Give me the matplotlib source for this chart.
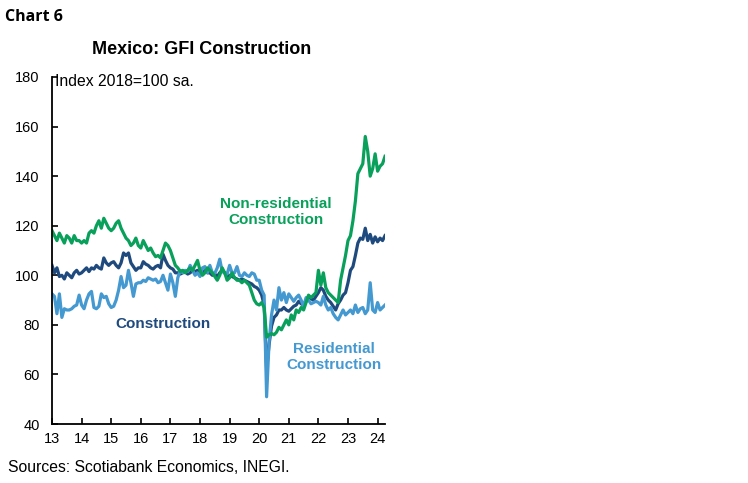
import numpy as np
import matplotlib
matplotlib.use('Agg')
import matplotlib.pyplot as plt

plt.rcParams['font.family'] = 'Liberation Sans'

# monthly index values, Jan 2013 .. Apr 2024 (2018=100, sa)
nonres = [
    118, 116, 114, 117, 115, 113, 116, 115, 113, 116, 114, 114,
    113, 114, 113, 117, 118, 117, 120, 122, 119, 123, 121, 119,
    118, 119, 121, 122, 119, 117, 115, 114, 112, 113, 115, 112,
    111, 114, 112, 110, 111, 109, 107.5, 108, 107, 110, 113, 112,
    110, 107, 104, 103, 101.5, 102, 101, 102, 103, 102, 104, 106,
    102, 100, 101, 103, 102, 101, 99.5, 98, 100, 103, 101, 98,
    99, 101, 99, 98, 98, 97, 98, 97, 96, 93, 90, 88.5,
    88, 89, 87, 75, 76, 76.5, 76, 77, 79, 78, 80, 82,
    80, 84, 82, 86, 85, 87, 86, 89, 92, 91, 92, 93,
    102, 96, 101, 95, 93, 92, 91, 90, 89, 98, 103, 108,
    114, 116, 122, 130, 141, 143, 145, 156, 150, 140, 143, 149,
    142, 144, 145, 148,
]
constr = [
    104, 101, 103, 99.5, 100, 98.5, 101, 100, 99, 101, 102, 100.5,
    101, 102, 103, 101.5, 103, 102.5, 104, 103, 102.5, 107, 105, 104,
    105, 105.5, 104, 103, 105, 109, 108, 109, 105, 103.5, 102, 103,
    103, 105.5, 104.5, 104, 103, 102.5, 103.5, 104, 103, 108.5, 106, 104,
    103, 102.5, 101, 101, 100.5, 101, 101.5, 100.5, 101, 102, 101.5, 102,
    100.5, 101, 102, 101, 101, 100, 100.5, 99.5, 101, 102, 101, 99.5,
    100, 99.5, 99, 98.5, 98, 98.5, 98, 97.5, 97, 96.5, 95.5, 95,
    94, 92, 88, 62, 72, 79.5, 83, 84, 86, 86, 87, 86,
    85.5, 86.5, 87.5, 88, 89.5, 88.5, 88, 89.5, 91.5, 90.5, 90, 91.5,
    93, 95, 94, 91.5, 90, 89, 87.5, 86, 88.5, 90, 92, 93,
    97, 102, 103.5, 108, 113, 115, 114.5, 119, 114, 116.5, 113, 115.5,
    113.5, 115, 114, 116,
]
resid = [
    92.5, 91.5, 84.5, 92.5, 83, 86.5, 86, 86, 86.5, 87.5, 88, 92,
    88, 86.5, 90, 92.5, 93.5, 87, 86.5, 87.5, 92.5, 91, 91.5, 88.5,
    87, 87.5, 90, 94, 99.5, 95, 96, 102, 97, 91.5, 96.5, 97,
    97, 98, 97.5, 99, 98.5, 98, 98.5, 97, 97.5, 100, 97, 94,
    100.5, 97, 91.5, 99, 102, 101, 102, 101.5, 104, 102, 100, 101,
    99.5, 103, 103.5, 101, 104, 101, 100.8, 103, 106.5, 101.5, 101, 100.5,
    104, 101, 101, 103.5, 100, 99.5, 101, 100, 99.5, 101, 100.5, 98,
    98, 94, 92, 51, 73, 84, 90, 86, 95, 90, 93, 89,
    92.5, 91, 89.5, 91, 92, 90, 87.5, 91, 90, 88.5, 89, 89.5,
    89, 88, 91.5, 88, 86, 87, 84.5, 83, 82, 84, 86, 84,
    85, 86, 84.5, 88, 85, 86.5, 87, 84.5, 86, 97, 86, 85,
    89, 86, 87, 88,
]
years = list(range(2013, 2025))
year_labels = [str(y)[2:] for y in years]

dark_blue = '#1f4a7e'
light_blue = '#4499d1'
green = '#08a05a'

t = 2013 + np.arange(len(constr)) / 12.0

fig = plt.figure(figsize=(7.48, 4.83), dpi=100)
ax = fig.add_axes([52 / 748, 59 / 483, 333 / 748, 347 / 483])

ax.plot(t, constr, color=dark_blue, lw=2.3)
ax.plot(t, resid, color=light_blue, lw=2.3)
ax.plot(t, nonres, color=green, lw=2.3)

ax.set_xlim(2013, t[-1])
ax.set_ylim(40, 180)
ax.set_xticks(years)
ax.set_xticklabels(year_labels)
ax.set_yticks(range(40, 181, 20))

for s in ['top', 'right']:
    ax.spines[s].set_visible(False)
for s in ['left', 'bottom']:
    ax.spines[s].set_linewidth(1.3)
ax.tick_params(axis='both', direction='in', length=4, width=1.2, labelsize=10.5)
ax.tick_params(axis='y', pad=9)
ax.tick_params(axis='x', pad=6)

ax.text(0.008, 1.008, 'Index 2018=100 sa.', transform=ax.transAxes,
        fontsize=11.3, va='top', ha='left')

fig.text(5 / 748, 1 - 17 / 483, 'Chart 6', fontsize=11.5, fontweight='bold',
         family='Open Sans', va='center', ha='left')
fig.text(202 / 748, 1 - 50 / 483, 'Mexico: GFI Construction', fontsize=13,
         fontweight='bold', va='center', ha='center')
fig.text(8 / 748, 1 - 467 / 483, 'Sources: Scotiabank Economics, INEGI.',
         fontsize=11.3, va='center', ha='left')

fig.text(276 / 748, 1 - 212 / 483, 'Non-residential\nConstruction', color=green,
         fontsize=11, fontweight='bold', ha='center', va='center', linespacing=1.1)
fig.text(163 / 748, 1 - 324 / 483, 'Construction', color=dark_blue,
         fontsize=11, fontweight='bold', ha='center', va='center')
fig.text(334 / 748, 1 - 357 / 483, 'Residential\nConstruction', color=light_blue,
         fontsize=11, fontweight='bold', ha='center', va='center', linespacing=1.1)

fig.savefig('out.png', dpi=100)
